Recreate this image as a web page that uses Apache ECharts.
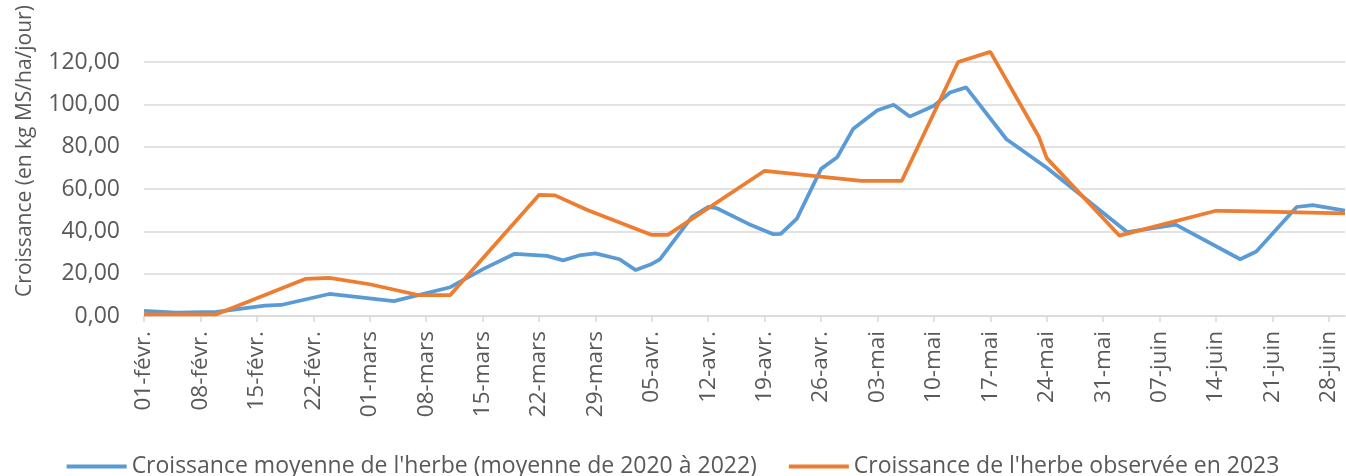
<!DOCTYPE html>
<html>
<head>
<meta charset="utf-8">
<script src="https://cdn.jsdelivr.net/npm/echarts@6/dist/echarts.min.js"></script>
<style>
html,body{margin:0;padding:0;background:#fff;}
#chart{width:1346px;height:476px;}
</style>
</head>
<body>
<div id="chart"></div>
<script>
// Month names (abbreviated, French) and day counts, Feb–Jun 2023
const months = [['févr.', 28], ['mars', 31], ['avr.', 30], ['mai', 31], ['juin', 30]];
// Daily category labels "01-févr." ... "30-juin"
const categories = [];
months.forEach(([m, n]) => {
  for (let d = 1; d <= n; d++) categories.push((d < 10 ? '0' + d : '' + d) + '-' + m);
});

const yTicks = [0, 20, 40, 60, 80, 100, 120];

// Croissance moyenne de l'herbe (moyenne de 2020 à 2022)
const avgDates = ['01-févr.', '05-févr.', '10-févr.', '16-févr.', '18-févr.', '24-févr.', '04-mars', '11-mars', '15-mars', '19-mars', '23-mars', '25-mars', '27-mars', '29-mars', '01-avr.', '03-avr.', '05-avr.', '06-avr.', '10-avr.', '12-avr.', '13-avr.', '17-avr.', '20-avr.', '21-avr.', '23-avr.', '26-avr.', '28-avr.', '30-avr.', '03-mai', '05-mai', '07-mai', '10-mai', '12-mai', '14-mai', '19-mai', '24-mai', '03-juin', '09-juin', '17-juin', '19-juin', '24-juin', '26-juin', '30-juin'];
const avgValues = [2.4, 1.6, 2.0, 4.9, 5.2, 10.4, 7.0, 13.6, 22.0, 29.4, 28.4, 26.3, 28.6, 29.6, 26.8, 21.7, 24.6, 26.8, 46.9, 51.6, 51.0, 43.5, 38.7, 38.8, 46.0, 69.5, 75.0, 88.5, 97.2, 99.8, 94.2, 99.3, 105.6, 108.0, 83.5, 70.0, 39.6, 43.2, 26.8, 30.5, 51.5, 52.4, 49.8];

// Croissance de l'herbe observée en 2023
const obsDates = ['01-févr.', '10-févr.', '21-févr.', '24-févr.', '01-mars', '07-mars', '11-mars', '22-mars', '24-mars', '28-mars', '05-avr.', '07-avr.', '19-avr.', '01-mai', '06-mai', '13-mai', '17-mai', '23-mai', '24-mai', '02-juin', '14-juin', '17-juin', '30-juin'];
const obsValues = [0.8, 0.8, 17.5, 18.0, 15.0, 9.9, 9.9, 57.2, 57.0, 50.1, 38.3, 38.3, 68.6, 63.8, 63.8, 120.0, 124.8, 84.8, 74.6, 38.0, 49.7, 49.6, 48.5];

const seriesNames = ["Croissance moyenne de l'herbe (moyenne de 2020 à 2022)", "Croissance de l'herbe observée en 2023"];
const yAxisTitle = 'Croissance (en kg MS/ha/jour)';

const FONT = 'Open Sans';
const TXT = '#595959';
const GRID = '#d9d9d9';

const chart = echarts.init(document.getElementById('chart'), null, {renderer: 'canvas'});
chart.setOption({
  animation: false,
  backgroundColor: '#ffffff',
  textStyle: {fontFamily: FONT},
  grid: {left: 144, right: 1, top: 62, bottom: 160, containLabel: false},
  legend: {
    left: 'center', top: 450,
    itemWidth: 60, itemHeight: 4, itemGap: 32,
    icon: 'rect',
    textStyle: {color: TXT, fontSize: 23, fontFamily: FONT},
    data: seriesNames
  },
  graphic: [{
    type: 'text', x: 25, y: 151, rotation: Math.PI / 2,
    style: {text: yAxisTitle, fill: TXT, fontSize: 21, fontFamily: FONT, align: 'center', verticalAlign: 'middle'}
  }],
  xAxis: {
    type: 'category', data: categories, boundaryGap: false,
    axisLine: {show: true, lineStyle: {color: GRID, width: 1.5}},
    axisTick: {show: true, interval: 6, length: 6, lineStyle: {color: GRID, width: 1.5}},
    axisLabel: {interval: 6, rotate: 90, margin: 15, color: TXT, fontSize: 22.5, fontFamily: FONT},
    splitLine: {show: false}
  },
  yAxis: {
    type: 'value', min: yTicks[0], max: yTicks[yTicks.length - 1], interval: 20,
    axisLine: {show: false}, axisTick: {show: false},
    axisLabel: {margin: 24, color: TXT, fontSize: 23, fontFamily: FONT,
      formatter: v => v.toFixed(2).replace('.', ',')},
    splitLine: {show: true, lineStyle: {color: GRID, width: 1.5}}
  },
  series: [
    {name: seriesNames[0], type: 'line', symbol: 'none', clip: false,
     color: '#5B9BD5', lineStyle: {width: 3.75, color: '#5B9BD5'},
     data: avgDates.map((d, i) => [d, avgValues[i]])},
    {name: seriesNames[1], type: 'line', symbol: 'none', clip: false,
     color: '#ED7D31', lineStyle: {width: 3.75, color: '#ED7D31'},
     data: obsDates.map((d, i) => [d, obsValues[i]])}
  ]
});
</script>
</body>
</html>
